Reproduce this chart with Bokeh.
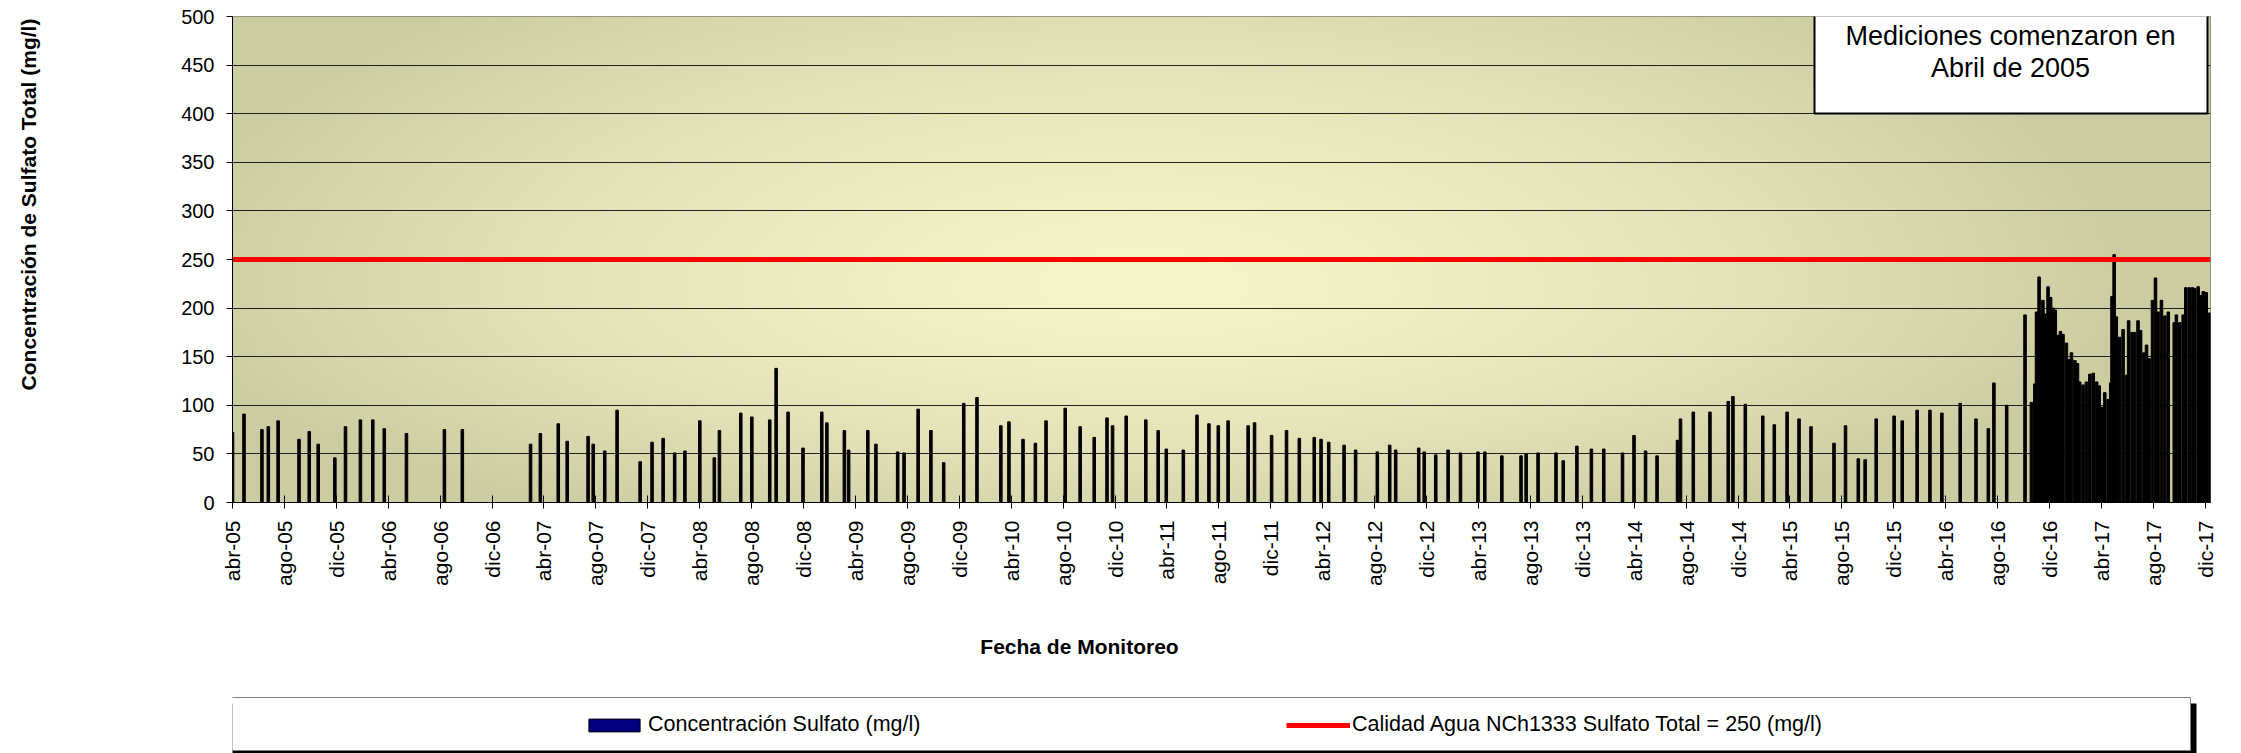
import math
import numpy as np
import pandas as pd
from bokeh.plotting import figure
from bokeh.layouts import column, row
from bokeh.models import (ColumnDataSource, FixedTicker, Label, Legend, LegendItem,
                          BoxAnnotation, Range1d)
from bokeh.embed import file_html
from bokeh.resources import INLINE

# ---------------- data ----------------
sample_dates = [
    "2005-04-01", "2005-04-28", "2005-06-09", "2005-06-24", "2005-07-17", "2005-09-04", "2005-09-28",
    "2005-10-19", "2005-11-27", "2005-12-22",
    "2006-01-26", "2006-02-24", "2006-03-23", "2006-05-14", "2006-08-11", "2006-09-22",
    "2007-03-01", "2007-03-24", "2007-05-05", "2007-05-26", "2007-07-14", "2007-07-26", "2007-08-22",
    "2007-09-20", "2007-11-13", "2007-12-11",
    "2008-01-06", "2008-02-02", "2008-02-26", "2008-04-01", "2008-05-05", "2008-05-17", "2008-07-06",
    "2008-08-01", "2008-09-12", "2008-09-27", "2008-10-25", "2008-11-29",
    "2009-01-12", "2009-01-24", "2009-03-06", "2009-03-16", "2009-04-30", "2009-05-19", "2009-07-09",
    "2009-07-24", "2009-08-26", "2009-09-25", "2009-10-25", "2009-12-11",
    "2010-01-11", "2010-03-08", "2010-03-27", "2010-04-29", "2010-05-28", "2010-06-22", "2010-08-06",
    "2010-09-10", "2010-10-13", "2010-11-12", "2010-11-25", "2010-12-27",
    "2011-02-11", "2011-03-12", "2011-03-31", "2011-05-10", "2011-06-11", "2011-07-09", "2011-07-31",
    "2011-08-23", "2011-10-09", "2011-10-24", "2011-12-03",
    "2012-01-07", "2012-02-06", "2012-03-12", "2012-03-28", "2012-04-15", "2012-05-21", "2012-06-17",
    "2012-08-07", "2012-09-05", "2012-09-19", "2012-11-12", "2012-11-25", "2012-12-22",
    "2013-01-20", "2013-02-18", "2013-03-31", "2013-04-16", "2013-05-26", "2013-07-10", "2013-07-22",
    "2013-08-19", "2013-09-30", "2013-10-17", "2013-11-18", "2013-12-22",
    "2014-01-20", "2014-03-05", "2014-04-01", "2014-04-28", "2014-05-25", "2014-07-12", "2014-07-19",
    "2014-08-18", "2014-09-26", "2014-11-08", "2014-11-19", "2014-12-18",
    "2015-01-28", "2015-02-24", "2015-03-26", "2015-04-23", "2015-05-21", "2015-07-14", "2015-08-10",
    "2015-09-09", "2015-09-25", "2015-10-21", "2015-12-02", "2015-12-21",
    "2016-01-25", "2016-02-24", "2016-03-23", "2016-05-05", "2016-06-11", "2016-07-10", "2016-07-23",
    "2016-08-22", "2016-10-04",
    "2016-10-19", "2016-10-27", "2016-10-31", "2016-11-06", "2016-11-11", "2016-11-15", "2016-11-21",
    "2016-11-27", "2016-12-03", "2016-12-09", "2016-12-14", "2016-12-21", "2016-12-26",
    "2017-01-01", "2017-01-09", "2017-01-15", "2017-01-21", "2017-01-29", "2017-02-04", "2017-02-09",
    "2017-02-17", "2017-02-25", "2017-03-05", "2017-03-13", "2017-03-21", "2017-03-27", "2017-04-03",
    "2017-04-09", "2017-04-17", "2017-04-23", "2017-04-26", "2017-05-01", "2017-05-06", "2017-05-14",
    "2017-05-22", "2017-05-30", "2017-06-04", "2017-06-12", "2017-06-18", "2017-06-26", "2017-07-02",
    "2017-07-10", "2017-07-16", "2017-07-22", "2017-07-30", "2017-08-06", "2017-08-12", "2017-08-20",
    "2017-08-28", "2017-09-05", "2017-09-19", "2017-09-24", "2017-10-02", "2017-10-10", "2017-10-16",
    "2017-10-24", "2017-11-01", "2017-11-06", "2017-11-14", "2017-11-20", "2017-11-26", "2017-12-03",
    "2017-12-11",
]
sulfate_mg_l = [
    72, 91, 75, 78, 84, 65, 73, 60, 46, 78,
    85, 85, 76, 71, 75, 75,
    60, 71, 81, 63, 68, 60, 53, 95, 42, 62,
    66, 51, 53, 84, 46, 74, 92, 88, 85, 138, 93, 56,
    93, 82, 74, 54, 74, 60, 52, 51, 96, 74, 41, 102,
    108, 79, 83, 65, 61, 84, 97, 78, 67, 87, 79, 89,
    85, 74, 55, 54, 90, 81, 79, 84, 79, 82, 69,
    74, 66, 67, 65, 62, 59, 54, 52, 59, 54, 56, 52, 49,
    54, 51, 52, 52, 48, 48, 50, 51, 51, 43, 58, 55,
    55, 51, 69, 53, 48, 64, 86, 93, 93, 104, 109, 101,
    89, 80, 93, 86, 78, 61, 79, 45, 44, 86, 89, 84,
    95, 95, 92, 102, 86, 76, 123, 100, 193,
    103, 122, 196, 232, 192, 208, 194, 222, 211, 200, 198, 172, 176,
    173, 164, 147, 154, 146, 143, 124, 121, 124, 132, 133, 124, 120, 98,
    113, 106, 123, 212, 255, 191, 170, 178, 131, 187, 175, 175, 187, 177,
    154, 162, 148, 208, 231, 196, 208, 192, 196, 185, 193, 185, 193, 221,
    221, 221, 220, 222, 213, 217, 216, 195,
]
tick_labels = [
    "abr-05", "ago-05", "dic-05", "abr-06", "ago-06", "dic-06", "abr-07", "ago-07", "dic-07",
    "abr-08", "ago-08", "dic-08", "abr-09", "ago-09", "dic-09", "abr-10", "ago-10", "dic-10",
    "abr-11", "ago-11", "dic-11", "abr-12", "ago-12", "dic-12", "abr-13", "ago-13", "dic-13",
    "abr-14", "ago-14", "dic-14", "abr-15", "ago-15", "dic-15", "abr-16", "ago-16", "dic-16",
    "abr-17", "ago-17", "dic-17",
]
y_ticks = [0, 50, 100, 150, 200, 250, 300, 350, 400, 450, 500]
limit_value = 250
series_label = "Concentración Sulfato (mg/l)"
limit_label = "Calidad Agua NCh1333 Sulfato Total = 250 (mg/l)"
y_title = "Concentración de Sulfato Total (mg/l)"
x_title = "Fecha de Monitoreo"
note_lines = ["Mediciones comenzaron en", "Abril de 2005"]

FONT = "Liberation Sans"
BAR_COLOR = "black"
LEGEND_BAR_FILL = "#000080"
LIMIT_COLOR = "#FF0000"

# ---------------- geometry ----------------
x_start = pd.Timestamp("2005-04-01")
x_end = pd.Timestamp("2017-12-13")
DAY = 86400000.0
TOTAL_W = 2241
TITLE_W = 60                 # strip on the left holding the y-axis title
CHART_W = TOTAL_W - TITLE_W
MAIN_H = 600
LEG_H = 153
FRAME_LEFT = 232             # page px
FRAME_TOP, FRAME_BOTTOM = 16, 502

# ---------------- main chart ----------------
p = figure(width=CHART_W, height=MAIN_H, x_axis_type="datetime", output_backend="svg",
           toolbar_location=None, x_range=Range1d(x_start, x_end), y_range=Range1d(0, 500),
           min_border_left=FRAME_LEFT - TITLE_W, min_border_right=31,
           min_border_top=FRAME_TOP, min_border_bottom=MAIN_H - FRAME_BOTTOM,
           background_fill_color="white", border_fill_color="white")

# plot-area gradient background (style only)
H, W = 243, 989
fx = (np.arange(W) + 0.5) / W
fy = (np.arange(H) + 0.5) / H
X, Y = np.meshgrid(fx, fy)
cx, cy = 0.46, 0.44
ry = np.where(Y > cy, 0.8, 0.55)
t = np.clip(np.sqrt(((X - cx) / 0.5) ** 2 + ((Y - cy) / ry) ** 2), 0, 1) ** 1.5
light = np.array([245, 243, 200], dtype=float)
dark = np.array([204, 204, 163], dtype=float)
rgb = light[None, None, :] + (dark - light)[None, None, :] * t[..., None]
img = np.empty((H, W), dtype=np.uint32)
view = img.view(dtype=np.uint8).reshape((H, W, 4))
view[..., :3] = np.round(rgb).astype(np.uint8)
view[..., 3] = 255
x0_ms = x_start.value / 1e6
x1_ms = x_end.value / 1e6
p.image_rgba(image=[img], x=x0_ms, y=0, dw=x1_ms - x0_ms, dh=500, level="image")

src = ColumnDataSource(dict(date=pd.to_datetime(sample_dates), value=sulfate_mg_l))
p.vbar(x="date", top="value", width=6 * DAY, source=src,
       fill_color=BAR_COLOR, line_color="black", line_width=1)
p.line(x=[x_start, x_end], y=[limit_value, limit_value], line_color=LIMIT_COLOR, line_width=5)

# axes
tick_dates = pd.date_range(x_start, periods=len(tick_labels), freq="4MS")
tick_ms = [float(d.value // 10**6) for d in tick_dates]
p.xaxis.ticker = FixedTicker(ticks=tick_ms, minor_ticks=[])
p.xaxis.major_label_overrides = {t_: lab for t_, lab in zip(tick_ms, tick_labels)}
p.xaxis.major_label_orientation = math.pi / 2
p.xaxis.major_label_text_font = FONT
p.xaxis.major_label_text_font_size = "21px"
p.xaxis.major_label_text_color = "black"
p.xaxis.major_label_standoff = 12
p.xaxis.major_tick_in = 7
p.xaxis.major_tick_out = 6
p.xaxis.major_tick_line_color = "black"
p.xaxis.axis_line_color = "black"

p.yaxis.ticker = FixedTicker(ticks=y_ticks, minor_ticks=[])
p.yaxis.major_label_text_font = FONT
p.yaxis.major_label_text_font_size = "20px"
p.yaxis.major_label_text_color = "black"
p.yaxis.major_label_standoff = 12
p.yaxis.major_tick_in = 0
p.yaxis.major_tick_out = 6
p.yaxis.major_tick_line_color = "black"
p.yaxis.axis_line_color = "black"

p.xgrid.grid_line_color = None
p.ygrid.ticker = FixedTicker(ticks=y_ticks[1:-1])
p.ygrid.grid_line_color = "black"
p.ygrid.grid_line_alpha = 0.85
p.ygrid.grid_line_width = 1

p.outline_line_color = "#808080"
p.outline_line_width = 1

# note box (inside the plot frame; screen px relative to the frame)
p.add_layout(BoxAnnotation(left=1582, right=1975, top=490, bottom=389,
                           left_units="screen", right_units="screen",
                           top_units="screen", bottom_units="screen",
                           fill_color="white", fill_alpha=1.0,
                           line_color="black", line_width=2, line_alpha=1.0))
for i, line_text in enumerate(note_lines):
    p.add_layout(Label(x=1778, y=467 - 32 * i, x_units="screen", y_units="screen",
                       text=line_text, text_align="center", text_baseline="middle",
                       text_font=FONT, text_font_size="27px", text_color="black"))

# ---------------- left strip: y-axis title ----------------
ty = figure(width=TITLE_W, height=MAIN_H, output_backend="svg", toolbar_location=None,
            x_range=Range1d(0, 1), y_range=Range1d(0, 1),
            x_axis_location=None, y_axis_location=None,
            min_border_left=0, min_border_right=0,
            min_border_top=FRAME_TOP, min_border_bottom=MAIN_H - FRAME_BOTTOM,
            background_fill_color="white", border_fill_color="white")
ty.grid.grid_line_color = None
ty.outline_line_color = None
ty.add_layout(Label(x=28, y=FRAME_BOTTOM - 204, x_units="screen", y_units="screen",
                    text=y_title, angle=math.pi / 2, text_align="center", text_baseline="middle",
                    text_font=FONT, text_font_size="21px", text_font_style="bold",
                    text_color="black"))

# ---------------- lower strip: x title + legend box ----------------
q = figure(width=CHART_W, height=LEG_H, output_backend="svg", toolbar_location=None,
           x_range=p.x_range, y_range=Range1d(600, 700),
           x_axis_location=None, y_axis_location=None,
           min_border_left=FRAME_LEFT - TITLE_W, min_border_right=31,
           min_border_top=0, min_border_bottom=0,
           background_fill_color="white", border_fill_color="white")
q.grid.grid_line_color = None
q.outline_line_color = None

q.add_layout(Label(x=847, y=107, x_units="screen", y_units="screen", text=x_title,
                   text_align="center", text_baseline="middle",
                   text_font=FONT, text_font_size="21px", text_font_style="bold",
                   text_color="black"))

q.add_layout(BoxAnnotation(left=-15, right=1964, top=50, bottom=-10,
                           left_units="screen", right_units="screen",
                           top_units="screen", bottom_units="screen",
                           fill_color="black", fill_alpha=1.0, line_alpha=0))
q.add_layout(BoxAnnotation(left=-21, right=1958, top=56, bottom=3,
                           left_units="screen", right_units="screen",
                           top_units="screen", bottom_units="screen",
                           fill_color="white", fill_alpha=1.0,
                           line_color="#808080", line_width=1, line_alpha=1.0))

# legend proxies: same series, drawn outside this strip's visible y-range
leg_bar = q.vbar(x="date", top="value", width=6 * DAY, source=src,
                 fill_color=LEGEND_BAR_FILL, line_color="black", line_width=1)
leg_line = q.line(x=[x_start, x_end], y=[limit_value, limit_value],
                  line_color=LIMIT_COLOR, line_width=5)
legend = Legend(items=[LegendItem(label=series_label, renderers=[leg_bar]),
                       LegendItem(label=limit_label, renderers=[leg_line])],
                location=(350, 16), orientation="horizontal", padding=0, margin=0,
                spacing=238, glyph_width=64, glyph_height=16, label_standoff=2,
                label_width=400, label_height=22,
                label_text_font=FONT, label_text_font_size="21.5px", label_text_color="black",
                border_line_alpha=0, background_fill_alpha=0)
q.add_layout(legend)

layout = row(ty, column(p, q, spacing=0), spacing=0)
open("out.html", "w").write(file_html(layout, INLINE))
